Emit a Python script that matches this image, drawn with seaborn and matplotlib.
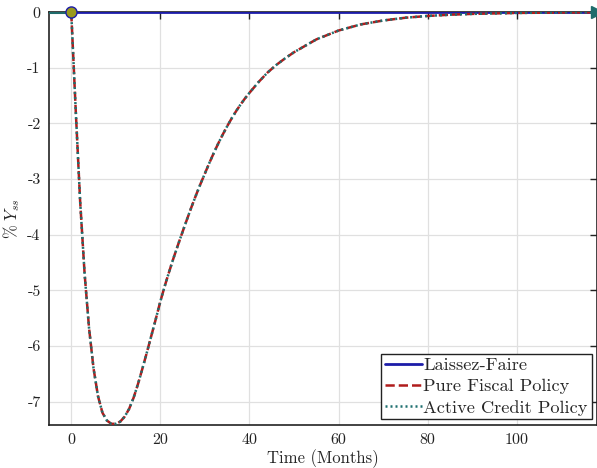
import numpy as np
import pandas as pd
import seaborn as sns
import matplotlib.pyplot as plt

# Output response (% of steady-state Y) by month
months = [0, 1, 2, 3, 4, 5, 6, 7, 8, 9, 10, 11, 12, 13, 14, 15, 16, 17, 18, 19,
          20, 21, 22, 23, 24, 25, 26, 27, 28, 29, 30, 31, 32, 33, 34, 35, 36, 37,
          38, 39, 40, 42, 44, 46, 48, 50, 55, 60, 65, 70, 75, 80, 85, 90, 100, 110, 118]
fiscal = [0, -1.75, -3.4, -4.7, -5.68, -6.4, -6.9, -7.2, -7.34, -7.4, -7.4,
          -7.36, -7.27, -7.13, -6.93, -6.68, -6.4, -6.11, -5.81, -5.51, -5.2,
          -4.92, -4.66, -4.41, -4.175, -3.945, -3.72, -3.5, -3.29, -3.09, -2.9,
          -2.71, -2.53, -2.36, -2.2, -2.05, -1.91, -1.78, -1.66, -1.55, -1.45,
          -1.26, -1.09, -0.95, -0.83, -0.72, -0.49, -0.33, -0.22, -0.15, -0.1,
          -0.068, -0.046, -0.031, -0.014, -0.006, -0.003]
credit = list(fiscal)  # identical path
laissez = [0.0] * len(months)
pre_months = [-5, 0]
pre_vals = [0, 0]

xticks = [0, 20, 40, 60, 80, 100]
yticks = [0, -1, -2, -3, -4, -5, -6, -7]

sns.set_style('whitegrid')
plt.rcParams['font.family'] = 'cmr10'
plt.rcParams['mathtext.fontset'] = 'cm'
plt.rcParams['axes.unicode_minus'] = False
plt.rcParams['axes.formatter.use_mathtext'] = True

fig = plt.figure(figsize=(5.97, 4.68), dpi=100)
ax = fig.add_axes([0.082, 0.092, 0.918, 0.882])

df = pd.DataFrame({'t': months, 'lf': laissez, 'pf': fiscal, 'ac': credit})

ax.plot(pre_months, pre_vals, color='#1f6b6b', lw=2.2, zorder=3)
sns.lineplot(data=df, x='t', y='lf', ax=ax, color='#1c1ca8', lw=2, label='Laissez-Faire', zorder=4)
sns.lineplot(data=df, x='t', y='pf', ax=ax, color='#b01c1c', lw=1.8, linestyle='--', label='Pure Fiscal Policy', zorder=5)
sns.lineplot(data=df, x='t', y='ac', ax=ax, color='#1f7070', lw=1.8, dashes=False, label='Active Credit Policy', zorder=6)
ax.lines[-1].set_linestyle((0, (0.8, 1.2)))

ax.plot([months[0]], [fiscal[0]], 'o', ms=8, mfc='#9a9a1c', mec='#1c1ca8', mew=1, zorder=7, clip_on=False)
ax.plot([months[-1]], [credit[-1]], '>', ms=9, color='#1f6b6b', zorder=7, clip_on=False)

ax.set_xlim(-5, 118)
ax.set_ylim(-7.42, 0)
ax.set_xticks(xticks)
ax.set_yticks(yticks)
ax.set_xticklabels([str(v) for v in xticks])
ax.set_yticklabels([str(v) for v in yticks])
ax.tick_params(direction='in', length=5, width=1, top=True, right=True, labelsize=11.5, colors='#222222', pad=6)
ax.grid(True, color='#e0e0e0', lw=0.9)
for s in ax.spines.values():
    s.set_color('#222222')
    s.set_linewidth(1.2)

ax.set_xlabel('Time (Months)', fontsize=12, labelpad=2)
ax.set_ylabel(r'$\%\ Y_{ss}$', fontsize=12, labelpad=4)

leg = ax.legend(loc='lower right', fontsize=13.2, frameon=True, fancybox=False, framealpha=1,
                edgecolor='#222222', borderpad=0.2, labelspacing=0.3, handlelength=2.0,
                handletextpad=0.1, borderaxespad=0.3)
leg.get_frame().set_linewidth(1)
leg.get_lines()[2].set_linestyle((0, (0.8, 1.2)))

fig.savefig('out.png', dpi=100)
